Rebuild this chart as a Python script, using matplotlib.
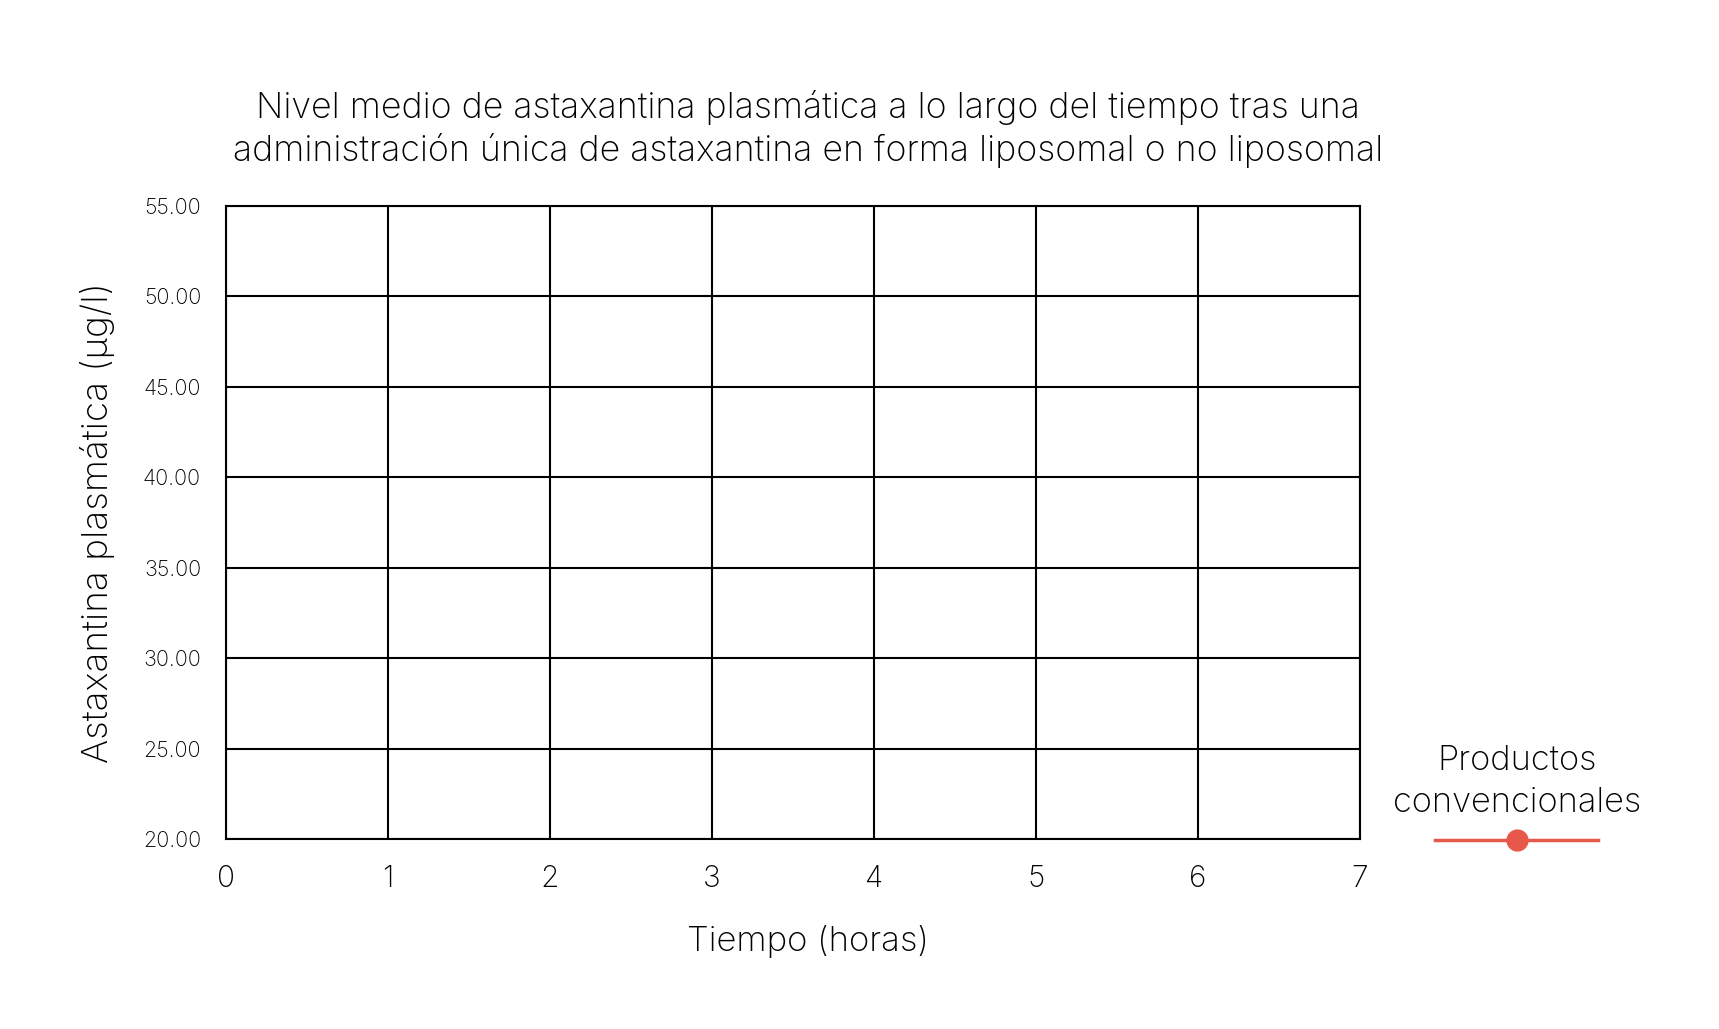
import matplotlib
matplotlib.use("Agg")
import matplotlib.pyplot as plt
from matplotlib.lines import Line2D

# ---- data ----
x_ticks = [0, 1, 2, 3, 4, 5, 6, 7]
y_ticks = [20.0, 25.0, 30.0, 35.0, 40.0, 45.0, 50.0, 55.0]
series_name = "Productos\nconvencionales"
conv_time = []      # no visible points in the reference
conv_values = []
title = ("Nivel medio de astaxantina plasmática a lo largo del tiempo tras una\n"
         "administración única de astaxantina en forma liposomal o no liposomal")
xlabel = "Tiempo (horas)"
ylabel = "Astaxantina plasmática (µg/l)"
line_color = "#E8584A"

plt.rcParams['font.family'] = ['Inter', 'DejaVu Sans']
FW = 'light'

W, H = 1719, 1029
fig = plt.figure(figsize=(W / 100, H / 100), dpi=100)
ax = fig.add_axes([226 / W, 1 - 839 / H, (1360 - 226) / W, (839 - 206) / H])

ax.plot(conv_time, conv_values, color=line_color, lw=2.5, marker='o', ms=14)

ax.set_xlim(x_ticks[0], x_ticks[-1])
ax.set_ylim(y_ticks[0], y_ticks[-1])
ax.set_xticks(x_ticks)
ax.set_yticks(y_ticks)
ax.set_xticklabels([str(v) for v in x_ticks], fontsize=21.5, fontweight=FW)
ax.set_yticklabels([f"{v:.2f}" for v in y_ticks], fontsize=15.5, fontweight=FW)
ax.tick_params(axis='both', length=0)
ax.tick_params(axis='x', pad=18.5)
ax.tick_params(axis='y', pad=18)
ax.grid(True, color='black', lw=1.5)
ax.set_axisbelow(True)
for s in ax.spines.values():
    s.set_color('black')
    s.set_linewidth(1.5)

ax.set_xlabel(xlabel, fontsize=25, labelpad=23, fontweight=FW)
ax.xaxis.label.set_x((808 - 226) / (1360 - 226))
ax.set_ylabel(ylabel, fontsize=26.5, labelpad=20, fontweight=FW)

fig.text(808 / W, 1 - 90 / H, title, ha='center', va='top', fontsize=25.7,
         linespacing=1.27, fontweight=FW)

# legend (manual)
fig.text(1517 / W, 1 - 819 / H, series_name, ha='center', va='bottom',
         fontsize=24.8, linespacing=1.42, fontweight=FW)
fig.add_artist(Line2D([1435 / W, 1598 / W], [1 - 840 / H, 1 - 840 / H],
                      transform=fig.transFigure, color=line_color, lw=2.5))
fig.add_artist(Line2D([1517 / W], [1 - 840 / H], transform=fig.transFigure,
                      color=line_color, marker='o', ms=15, lw=0))

fig.savefig("out.png", dpi=100, facecolor='white')
